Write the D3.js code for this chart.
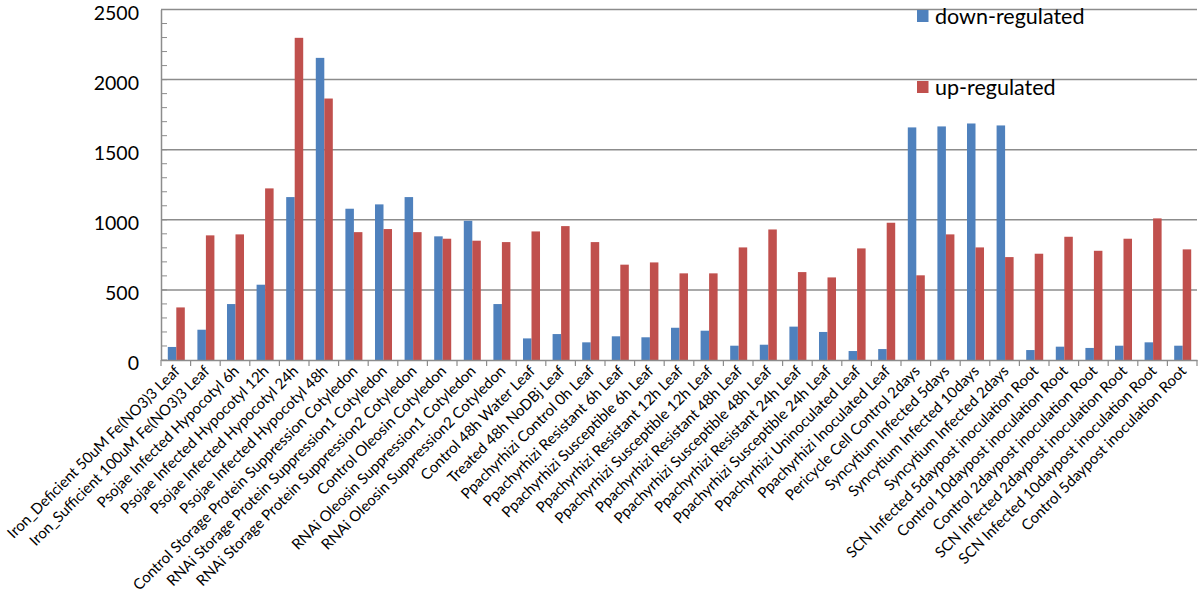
<!DOCTYPE html>
<html>
<head>
<meta charset="utf-8">
<script src="https://cdn.jsdelivr.net/npm/d3@7"></script>
<style>
  html, body { margin: 0; padding: 0; background: #fff; }
  svg { display: block; }
  text { font-family: Lato, "Open Sans", sans-serif; fill: #000; }
</style>
</head>
<body>
<svg id="chart" width="1200" height="612"></svg>
<script>
const categories = [
  "Iron_Deficient 50uM Fe(NO3)3 Leaf",
  "Iron_Sufficient 100uM Fe(NO3)3 Leaf",
  "Psojae Infected Hypocotyl 6h",
  "Psojae Infected Hypocotyl 12h",
  "Psojae Infected Hypocotyl 24h",
  "Psojae Infected Hypocotyl 48h",
  "Control Storage Protein Suppression Cotyledon",
  "RNAi Storage Protein Suppression1 Cotyledon",
  "RNAi Storage Protein Suppression2 Cotyledon",
  "Control Oleosin Cotyledon",
  "RNAi Oleosin Suppression1 Cotyledon",
  "RNAi Oleosin Suppression2 Cotyledon",
  "Control 48h Water Leaf",
  "Treated 48h NoDBj Leaf",
  "Ppachyrhizi Control 0h Leaf",
  "Ppachyrhizi Resistant 6h Leaf",
  "Ppachyrhizi Susceptible 6h Leaf",
  "Ppachyrhizi Resistant 12h Leaf",
  "Ppachyrhizi Susceptible 12h Leaf",
  "Ppachyrhizi Resistant 48h Leaf",
  "Ppachyrhizi Susceptible 48h Leaf",
  "Ppachyrhizi Resistant 24h Leaf",
  "Ppachyrhizi Susceptible 24h Leaf",
  "Ppachyrhizi Uninoculated Leaf",
  "Ppachyrhizi Inoculated Leaf",
  "Pericycle Cell Control 2days",
  "Syncytium Infected 5days",
  "Syncytium Infected 10days",
  "Syncytium Infected 2days",
  "SCN Infected 5daypost inoculation Root",
  "Control 10daypost inoculation Root",
  "Control 2daypost inoculation Root",
  "SCN Infected 2daypost inoculation Root",
  "SCN Infected 10daypost inoculation Root",
  "Control 5daypost inoculation Root"
];
const seriesNames = ["down-regulated", "up-regulated"];
const downRegulated = [93, 216, 399, 537, 1162, 2155, 1079, 1110, 1162, 882, 993, 399,
  154, 185, 126, 169, 162, 230, 209, 102, 109, 238, 200, 64, 78,
  1659, 1666, 1687, 1673, 71, 95, 86, 102, 126, 102];
const upRegulated = [375, 889, 896, 1224, 2298, 1865, 912, 934, 912, 865, 851, 841,
  917, 955, 841, 680, 696, 618, 618, 803, 931, 627, 589, 796, 979,
  604, 896, 803, 734, 758, 879, 779, 865, 1010, 789];
const yTicks = [0, 500, 1000, 1500, 2000, 2500];
const colors = ["#4F81BD", "#C0504D"];

const svg = d3.select("#chart");
const plotLeft = 161, plotRight = 1197, plotTop = 9.5, plotBottom = 360;

const x = d3.scaleBand().domain(categories).range([plotLeft, plotRight]).padding(0);
const xs = d3.scaleBand().domain(seriesNames).range([0, x.bandwidth()]).paddingInner(0).paddingOuter(0.74);
const y = d3.scaleLinear().domain([0, 2500]).range([plotBottom, plotTop]);

// gridlines
svg.append("g")
  .selectAll("line").data(yTicks.filter(d => d > 0)).join("line")
  .attr("x1", plotLeft).attr("x2", plotRight)
  .attr("y1", d => y(d)).attr("y2", d => y(d))
  .attr("stroke", "#8c8c8c").attr("stroke-width", 1.5);

// minor ticks on y axis
svg.append("g")
  .selectAll("line").data(d3.range(0, 2501, 100)).join("line")
  .attr("x1", plotLeft).attr("x2", plotLeft + 6)
  .attr("y1", d => y(d)).attr("y2", d => y(d))
  .attr("stroke", "#8c8c8c").attr("stroke-width", 1);

// bars
const data = categories.map((c, i) => ({ c, vals: [downRegulated[i], upRegulated[i]] }));
const groups = svg.append("g").selectAll("g").data(data).join("g")
  .attr("transform", d => `translate(${x(d.c)},0)`);
groups.selectAll("rect").data(d => d.vals.map((v, j) => ({ s: seriesNames[j], v, j }))).join("rect")
  .attr("x", d => xs(d.s) + 0.5)
  .attr("width", xs.bandwidth())
  .attr("y", d => y(d.v))
  .attr("height", d => y(0) - y(d.v))
  .attr("fill", d => colors[d.j]);

// y axis
const yAxis = svg.append("g").attr("transform", `translate(${plotLeft},0)`)
  .call(d3.axisLeft(y).tickValues(yTicks).tickFormat(d3.format("d")).tickSize(0).tickPadding(22));
yAxis.select(".domain").attr("stroke", "#8c8c8c").attr("stroke-width", 1.5);
yAxis.selectAll("text").style("font-size", "19.5px").style("font-family", "Lato, sans-serif")
  .attr("fill", "#000").attr("dy", "0.5em");

// x axis
const xAxis = svg.append("g").attr("transform", `translate(0,${plotBottom})`)
  .call(d3.axisBottom(x).tickSize(0).tickFormat(""));
xAxis.select(".domain").attr("stroke", "#8c8c8c").attr("stroke-width", 1.5);

// boundary ticks
const bounds = categories.map(c => x(c)).concat([plotRight]);
svg.append("g").selectAll("line").data(bounds).join("line")
  .attr("x1", d => d).attr("x2", d => d)
  .attr("y1", plotBottom).attr("y2", plotBottom + 6)
  .attr("stroke", "#8c8c8c").attr("stroke-width", 1.2);

// x labels
svg.append("g").selectAll("text").data(categories).join("text")
  .attr("transform", d => `translate(${x(d) + x.bandwidth() / 2 + 5},${plotBottom + 12}) rotate(-45)`)
  .attr("text-anchor", "end")
  .style("font-size", "15px")
  .text(d => d);

// legend
const legendY = [16, 87];
const lg = svg.append("g");
seriesNames.forEach((s, i) => {
  lg.append("rect").attr("x", 917).attr("y", legendY[i] - 6).attr("width", 11.5).attr("height", 12)
    .attr("fill", colors[i]);
  lg.append("text").attr("x", 935).attr("y", legendY[i]).attr("dy", "0.35em")
    .style("font-size", "21.5px").text(s);
});
</script>
</body>
</html>
